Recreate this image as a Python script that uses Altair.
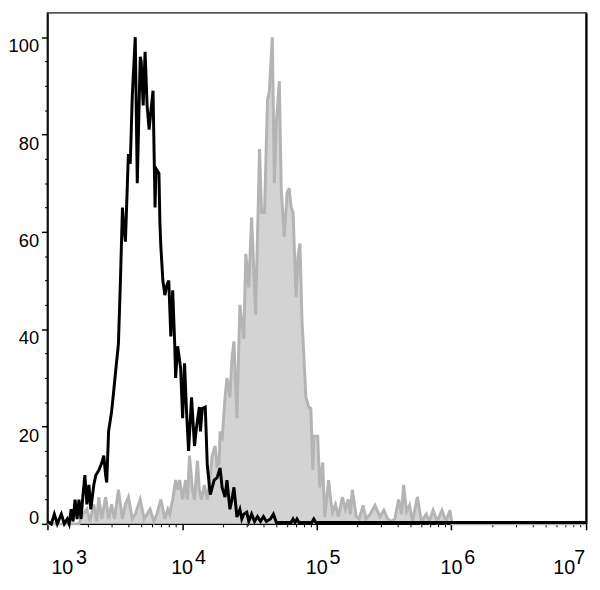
import altair as alt
import pandas as pd

# ---- data (log10 intensity, % of max) ----
black_log = [3.000, 3.029, 3.051, 3.073, 3.103, 3.125, 3.147, 3.161, 3.176, 3.190,
             3.205, 3.220, 3.234, 3.249, 3.264, 3.278, 3.293, 3.308, 3.322, 3.344,
             3.359, 3.381, 3.403, 3.418, 3.432, 3.440, 3.454, 3.476, 3.491, 3.505,
             3.527, 3.542, 3.557, 3.564, 3.579, 3.601, 3.615, 3.630, 3.652, 3.667,
             3.689, 3.696, 3.711, 3.725, 3.740, 3.755, 3.769, 3.784, 3.799, 3.806,
             3.828, 3.835, 3.842, 3.857, 3.872, 3.886, 3.901, 3.916, 3.930, 3.945,
             3.952, 3.967, 3.989, 4.004, 4.018, 4.033, 4.048, 4.070, 4.092, 4.106,
             4.128, 4.136, 4.150, 4.172, 4.187, 4.209, 4.238, 4.260, 4.282, 4.297,
             4.319, 4.333, 4.355, 4.370, 4.385, 4.407, 4.429, 4.443, 4.458, 4.480,
             4.495, 4.516, 4.538, 4.560, 4.582, 4.604, 4.626, 4.656, 4.678, 4.700,
             4.810, 4.824, 4.839, 4.853, 4.868, 4.963, 4.978, 4.993, 7.000]
black_val = [0.5, 0, 2, 0, 2, 0, 1, 0, 3, 0.5,
             5, 1, 5, 1, 6, 10, 4, 8, 3, 8,
             10, 11, 12.5, 14, 10, 8.5, 19, 23, 27, 31,
             37, 50, 65, 62, 58, 76, 74, 88, 100, 70,
             96, 95, 86, 97, 86, 81, 85, 89, 65, 73,
             72, 62, 57, 50, 47, 49, 50, 38.5, 48, 37,
             30, 36.5, 32, 21.7, 33, 23, 15, 26, 16, 19.7,
             24, 19, 23.7, 24, 12, 6, 9, 9.5, 11.5, 7.5,
             5.5, 9, 3, 5, 7.5, 1.4, 3, 1, 2, 2.4,
             0.5, 2, 0.5, 1.5, 0.5, 1.5, 0.5, 1, 2, 0.3,
             0.3, 1, 0.3, 1, 0.3, 0.3, 1, 0.3, 0.3]

gray_log = [3.000, 3.234, 3.264, 3.293, 3.315, 3.344, 3.366, 3.381, 3.403, 3.432,
            3.454, 3.476, 3.498, 3.527, 3.557, 3.579, 3.601, 3.630, 3.652, 3.689,
            3.718, 3.740, 3.762, 3.791, 3.813, 3.842, 3.872, 3.894, 3.908, 3.930,
            3.952, 3.967, 3.982, 4.004, 4.026, 4.040, 4.055, 4.077, 4.092, 4.114,
            4.128, 4.143, 4.165, 4.187, 4.201, 4.223, 4.245, 4.260, 4.275, 4.282,
            4.297, 4.311, 4.319, 4.333, 4.355, 4.370, 4.385, 4.407, 4.429, 4.458,
            4.473, 4.495, 4.516, 4.546, 4.575, 4.590, 4.612, 4.634, 4.648, 4.670,
            4.685, 4.700, 4.722, 4.736, 4.758, 4.780, 4.795, 4.810, 4.824, 4.846,
            4.861, 4.875, 4.890, 4.905, 4.919, 4.941, 4.956, 4.971, 4.978, 5.007,
            5.022, 5.044, 5.059, 5.088, 5.103, 5.117, 5.139, 5.161, 5.190, 5.212,
            5.234, 5.249, 5.264, 5.293, 5.315, 5.344, 5.366, 5.396, 5.432, 5.469,
            5.498, 5.527, 5.557, 5.579, 5.608, 5.630, 5.645, 5.667, 5.689, 5.711,
            5.747, 5.777, 5.813, 5.835, 5.864, 5.894, 5.930, 5.960, 5.989, 6.004,
            7.000]
gray_val = [0, 0, 2, 3, 0.5, 4, 0.5, 5.5, 1, 5.5,
            1, 4, 1, 7, 1, 4, 5.5, 1, 2, 5,
            1, 2, 3, 0.5, 2, 5, 1, 3, 2, 5,
            9, 7, 9, 5, 9, 5, 14, 7, 5, 13,
            7, 5, 8, 5, 8, 14, 16, 12, 12.5, 19,
            17, 23, 26, 30, 26, 34, 37.5, 21.7, 45, 38,
            55.5, 48.6, 63, 43, 77, 64, 64, 87, 89, 100,
            70, 82.5, 91, 69, 59, 68, 69, 65, 64, 46.6,
            55, 57.6, 42, 34, 26, 24, 23.7, 11, 18, 18,
            7.5, 12.6, 1.4, 9, 5, 2.4, 4, 1.5, 5.5, 3,
            5, 2, 7, 1.5, 1, 3.8, 1, 2, 3.8, 1.5,
            2.8, 1, 0.5, 1, 5, 2, 8, 2.5, 3.8, 0.5,
            5.5, 0.5, 2, 0.5, 2.8, 0.5, 2.8, 0.5, 2.8, 0,
            0]

x_decades = [1e3, 1e4, 1e5, 1e6, 1e7]
x_exponents = ["3", "4", "5", "6", "7"]
x_minor = [m * d for d in [1e3, 1e4, 1e5, 1e6] for m in range(2, 10)]
y_major = [0, 20, 40, 60, 80, 100]
y_minor = [5, 10, 15, 25, 30, 35, 45, 50, 55, 65, 70, 75, 85, 90, 95]

df_black = pd.DataFrame({"x": [10 ** e for e in black_log], "y": black_val})
df_gray = pd.DataFrame({"x": [10 ** e for e in gray_log], "y": gray_val})
df_lab = pd.DataFrame({"x": x_decades, "base": ["10"] * 5, "exp": x_exponents})
df_xminor = pd.DataFrame({"x": x_minor})
df_yminor = pd.DataFrame({"y": y_minor})

FONT = "Liberation Sans"
x_scale = alt.Scale(type="log", domain=[1e3, 1e7], nice=False)
y_scale = alt.Scale(domain=[0, 105], nice=False, zero=True)

x_axis = alt.Axis(values=x_decades, labels=False, title=None, grid=False,
                  tickSize=6, tickColor="black", tickWidth=1.5,
                  domainColor="black", domainWidth=1.5)
y_axis = alt.Axis(values=y_major, title=None, grid=False,
                  tickSize=6, tickColor="black", tickWidth=1.5,
                  domainColor="black", domainWidth=1.5,
                  labelFont=FONT, labelFontSize=18.5, labelColor="black",
                  labelPadding=3,
                  labelBaseline={"condition": {"test": "datum.value == 0", "value": "alphabetic"},
                                 "value": "top"})

x_enc = alt.X("x:Q", scale=x_scale, axis=x_axis)
y_enc = alt.Y("y:Q", scale=y_scale, axis=y_axis)

gray_area = alt.Chart(df_gray).mark_area(color="#d3d3d3").encode(x=x_enc, y=y_enc)
gray_line = alt.Chart(df_gray).mark_line(color="#b4b4b4", strokeWidth=3).encode(x=x_enc, y=y_enc)
black_line = alt.Chart(df_black).mark_line(color="black", strokeWidth=3).encode(x=x_enc, y=y_enc)

lab = alt.Chart(df_lab)
txt = dict(font=FONT, fontSize=20, color="black", baseline="alphabetic")
base_first = lab.transform_filter("datum.x == 1000").mark_text(align="left", dx=4, **txt).encode(
    x=x_enc, y=alt.value(569), text="base:N")
base_mid = lab.transform_filter("datum.x > 1000 && datum.x < 10000000").mark_text(align="center", **txt).encode(
    x=x_enc, y=alt.value(569), text="base:N")
base_last = lab.transform_filter("datum.x == 10000000").mark_text(align="right", dx=-11, **txt).encode(
    x=x_enc, y=alt.value(569), text="base:N")
exp_first = lab.transform_filter("datum.x == 1000").mark_text(align="left", dx=29, **txt).encode(
    x=x_enc, y=alt.value(559), text="exp:N")
exp_mid = lab.transform_filter("datum.x > 1000 && datum.x < 10000000").mark_text(align="left", dx=13, **txt).encode(
    x=x_enc, y=alt.value(559), text="exp:N")
exp_last = lab.transform_filter("datum.x == 10000000").mark_text(align="right", dx=-1, **txt).encode(
    x=x_enc, y=alt.value(559), text="exp:N")

inner = alt.layer(gray_area, gray_line, black_line,
                  base_first, base_mid, base_last, exp_first, exp_mid, exp_last)

xminor_layer = alt.Chart(df_xminor).mark_point(opacity=0).encode(
    x=alt.X("x:Q", scale=x_scale,
            axis=alt.Axis(orient="bottom", values=x_minor, labels=False, domain=False,
                          title=None, grid=False, tickSize=3, tickColor="black", tickWidth=1)))
yminor_layer = alt.Chart(df_yminor).mark_point(opacity=0).encode(
    y=alt.Y("y:Q", scale=y_scale,
            axis=alt.Axis(orient="left", values=y_minor, labels=False, domain=False,
                          title=None, grid=False, tickSize=3, tickColor="black", tickWidth=1)))
yright_layer = alt.Chart(df_yminor).mark_point(opacity=0).encode(
    y=alt.Y("y:Q", scale=y_scale,
            axis=alt.Axis(orient="right", labels=False, ticks=False, domain=True,
                          domainColor="black", domainWidth=2, title=None, grid=False)))

chart = alt.layer(inner, xminor_layer, yminor_layer, yright_layer).resolve_scale(
    x="independent", y="independent"
).properties(
    width=546, height=518,
    padding={"left": 40, "top": 1, "right": 6, "bottom": 55},
    autosize="none",
).configure_view(stroke="#555555", strokeWidth=2)

chart.save("out.html", embed_options={"renderer": "svg", "actions": False})
